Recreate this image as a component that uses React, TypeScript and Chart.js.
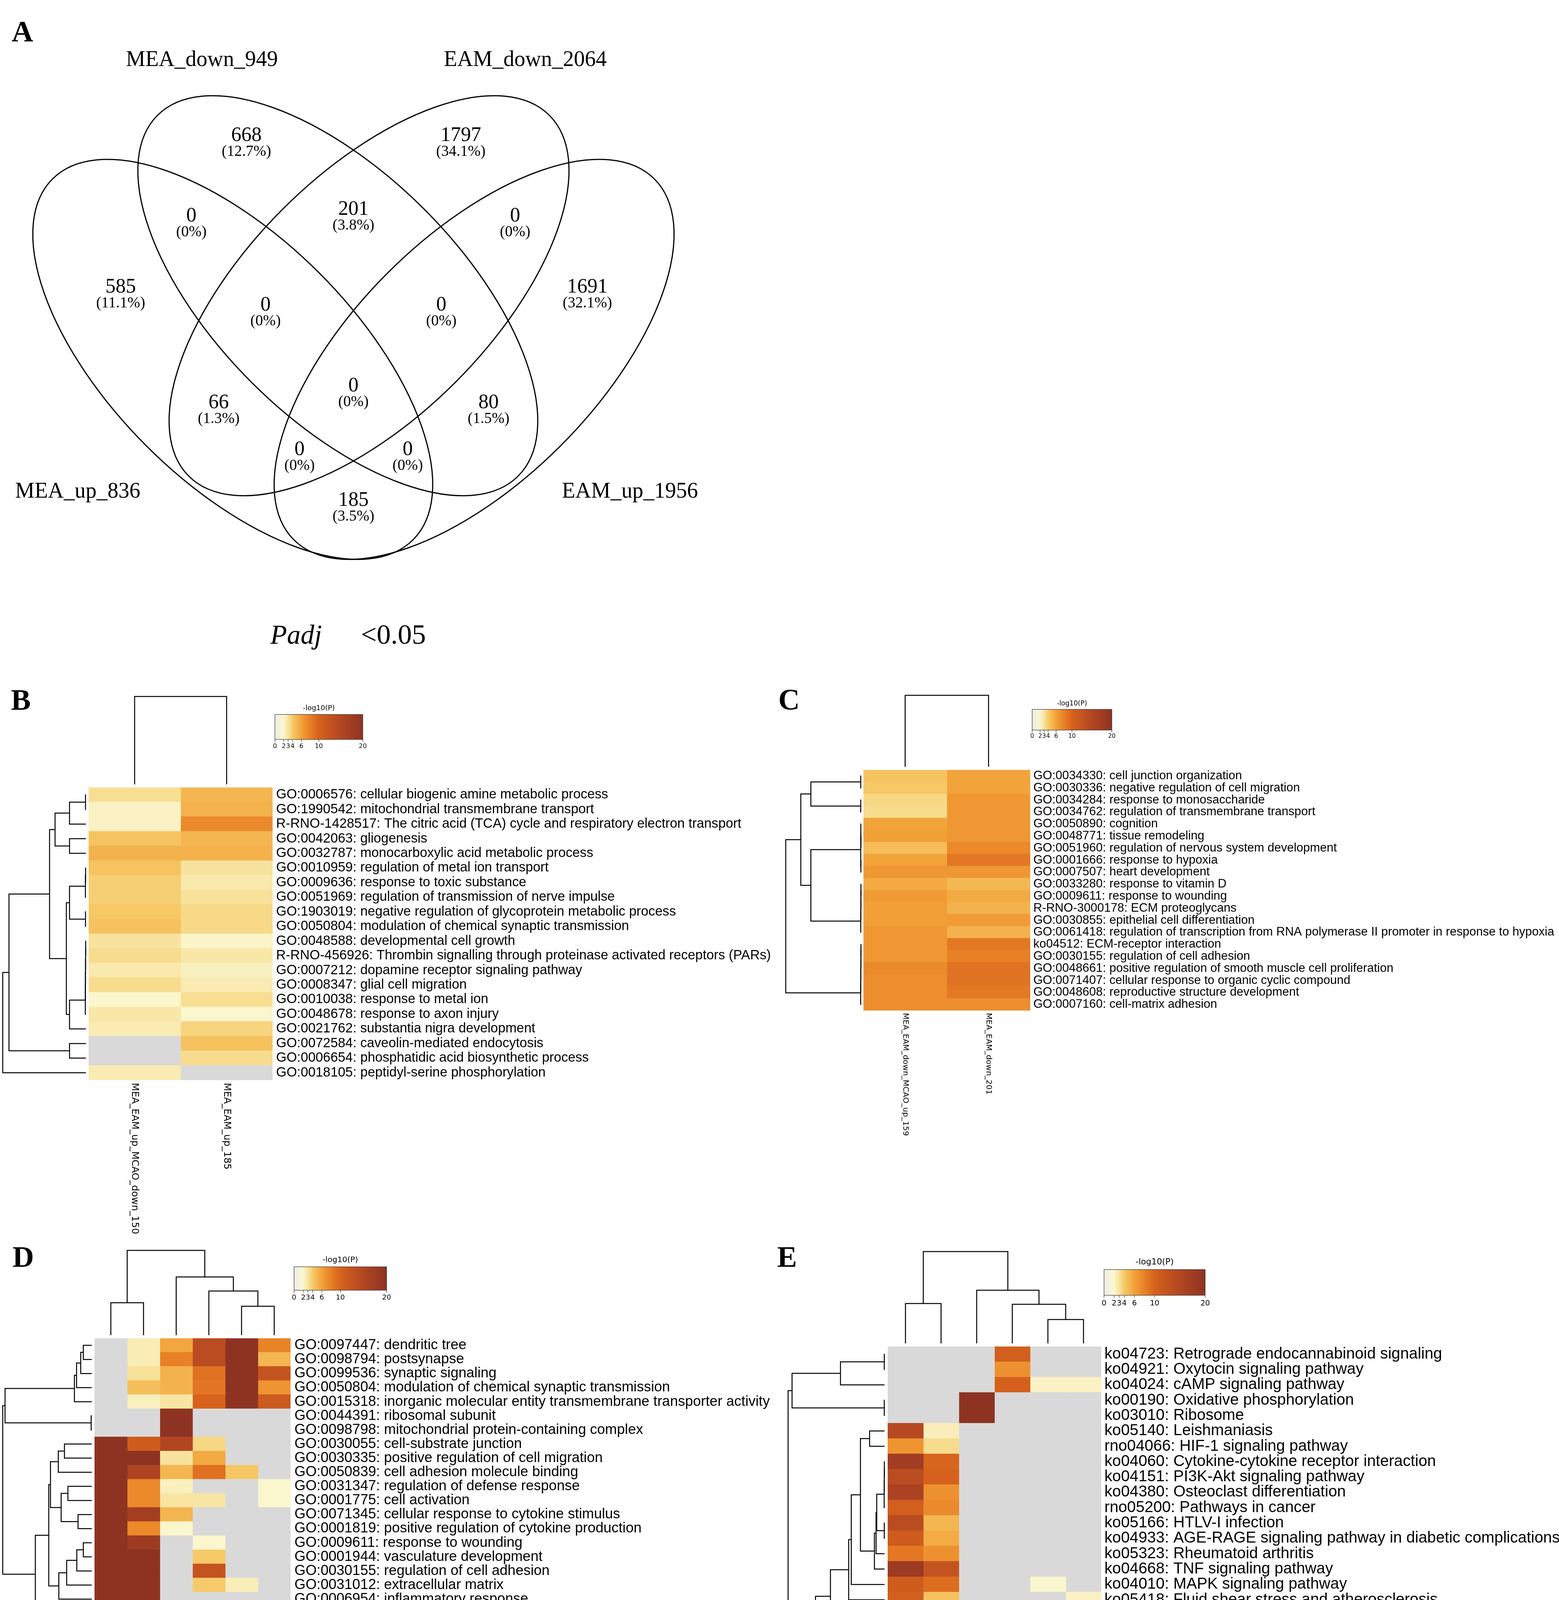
import React, { useEffect, useRef } from 'react';
import { Chart, registerables } from 'chart.js';

Chart.register(...registerables);
Chart.defaults.font.family = "'Liberation Sans', Arial, sans-serif";

// ======================= DATA =======================
const VENN_SETS = ['MEA_up_836', 'MEA_down_949', 'EAM_down_2064', 'EAM_up_1956'];
const VENN_REGION_COUNTS = [668, 1797, 0, 201, 0, 585, 1691, 0, 0, 0, 66, 80, 0, 0, 185];
const VENN_REGION_PERCENTS = ['(12.7%)', '(34.1%)', '(0%)', '(3.8%)', '(0%)', '(11.1%)', '(32.1%)', '(0%)', '(0%)', '(0%)', '(1.3%)', '(1.5%)', '(0%)', '(0%)', '(3.5%)'];
const THRESHOLD_NAME = 'Padj';
const THRESHOLD_VALUE = '<0.05';

const COLORBAR_TITLE = '-log10(P)';
const COLORBAR_TICKS = [0, 2, 3, 4, 6, 10, 20];
const COLORBAR_MAX = 20;

// ---- Panel B ----
const B_COLS = ['MEA_EAM_up_MCAO_down_150', 'MEA_EAM_up_185'];
const B_ROWS = [
  'GO:0006576: cellular biogenic amine metabolic process',
  'GO:1990542: mitochondrial transmembrane transport',
  'R-RNO-1428517: The citric acid (TCA) cycle and respiratory electron transport',
  'GO:0042063: gliogenesis',
  'GO:0032787: monocarboxylic acid metabolic process',
  'GO:0010959: regulation of metal ion transport',
  'GO:0009636: response to toxic substance',
  'GO:0051969: regulation of transmission of nerve impulse',
  'GO:1903019: negative regulation of glycoprotein metabolic process',
  'GO:0050804: modulation of chemical synaptic transmission',
  'GO:0048588: developmental cell growth',
  'R-RNO-456926: Thrombin signalling through proteinase activated receptors (PARs)',
  'GO:0007212: dopamine receptor signaling pathway',
  'GO:0008347: glial cell migration',
  'GO:0010038: response to metal ion',
  'GO:0048678: response to axon injury',
  'GO:0021762: substantia nigra development',
  'GO:0072584: caveolin-mediated endocytosis',
  'GO:0006654: phosphatidic acid biosynthetic process',
  'GO:0018105: peptidyl-serine phosphorylation',
];
const B_VALUES = [
  [3.2, 5.0], [2.2, 5.2], [2.2, 7.4], [4.3, 5.0], [5.2, 5.2],
  [4.3, 3.0], [3.8, 2.7], [3.8, 3.1], [4.1, 3.4], [4.4, 3.4],
  [3.0, 2.1], [3.3, 2.8], [2.7, 2.3], [3.3, 2.6], [2.0, 3.2],
  [2.8, 2.0], [2.6, 3.6], [null, 4.4], [null, 3.3], [2.6, null],
];
const B_ROW_LINKAGE = [
  [0, 1, 0.005], [20, 2, 0.197], [3, 4, 0.197], [21, 22, 0.371], [5, 6, 0.004],
  [24, 7, 0.006], [8, 9, 0.005], [25, 26, 0.197], [10, 11, 0.003], [28, 12, 0.004],
  [29, 13, 0.005], [30, 14, 0.006], [31, 15, 0.007], [32, 16, 0.197], [27, 33, 0.235],
  [23, 34, 0.437], [17, 18, 0.197], [35, 36, 0.925], [37, 19, 1.0],
];
const B_COL_LINKAGE = [[0, 1, 1.0]];

// ---- Panel C ----
const C_COLS = ['MEA_EAM_down_MCAO_up_159', 'MEA_EAM_down_201'];
const C_ROWS = [
  'GO:0034330: cell junction organization',
  'GO:0030336: negative regulation of cell migration',
  'GO:0034284: response to monosaccharide',
  'GO:0034762: regulation of transmembrane transport',
  'GO:0050890: cognition',
  'GO:0048771: tissue remodeling',
  'GO:0051960: regulation of nervous system development',
  'GO:0001666: response to hypoxia',
  'GO:0007507: heart development',
  'GO:0033280: response to vitamin D',
  'GO:0009611: response to wounding',
  'R-RNO-3000178: ECM proteoglycans',
  'GO:0030855: epithelial cell differentiation',
  'GO:0061418: regulation of transcription from RNA polymerase II promoter in response to hypoxia',
  'ko04512: ECM-receptor interaction',
  'GO:0030155: regulation of cell adhesion',
  'GO:0048661: positive regulation of smooth muscle cell proliferation',
  'GO:0071407: cellular response to organic cyclic compound',
  'GO:0048608: reproductive structure development',
  'GO:0007160: cell-matrix adhesion',
];
const C_VALUES = [
  [4.3, 5.9], [4.1, 5.9], [3.5, 6.6], [3.3, 6.6], [5.9, 6.6],
  [6.2, 6.6], [4.7, 7.5], [5.9, 8.6], [6.6, 6.6], [5.6, 4.9],
  [6.4, 5.6], [6.2, 5.2], [6.2, 6.4], [6.6, 5.2], [6.6, 8.5],
  [6.6, 8.0], [7.4, 8.9], [7.2, 8.9], [7.2, 8.5], [7.2, 7.2],
];
const C_ROW_LINKAGE = [
  [0, 1, 0.005], [2, 3, 0.005], [20, 21, 0.667], [5, 6, 0.003], [4, 23, 0.004],
  [7, 8, 0.003], [24, 25, 0.005], [9, 10, 0.002], [27, 11, 0.003], [28, 12, 0.004],
  [29, 13, 0.005], [26, 30, 0.667], [22, 31, 0.8], [14, 15, 0.002], [33, 16, 0.003],
  [34, 17, 0.004], [35, 18, 0.005], [36, 19, 0.006], [32, 37, 1.0],
];
const C_COL_LINKAGE = [[0, 1, 1.0]];

// ---- Panel D ----
const D_COLS = ['MCAO_up_1862', 'MEA_down_574', 'EAM_up_993', 'EAM_down_1375', 'MCAO_down_1393', 'MEA_up_419'];
const D_ROWS = [
  'GO:0097447: dendritic tree',
  'GO:0098794: postsynapse',
  'GO:0099536: synaptic signaling',
  'GO:0050804: modulation of chemical synaptic transmission',
  'GO:0015318: inorganic molecular entity transmembrane transporter activity',
  'GO:0044391: ribosomal subunit',
  'GO:0098798: mitochondrial protein-containing complex',
  'GO:0030055: cell-substrate junction',
  'GO:0030335: positive regulation of cell migration',
  'GO:0050839: cell adhesion molecule binding',
  'GO:0031347: regulation of defense response',
  'GO:0001775: cell activation',
  'GO:0071345: cellular response to cytokine stimulus',
  'GO:0001819: positive regulation of cytokine production',
  'GO:0009611: response to wounding',
  'GO:0001944: vasculature development',
  'GO:0030155: regulation of cell adhesion',
  'GO:0031012: extracellular matrix',
  'GO:0006954: inflammatory response',
  'GO:0009725: response to hormone',
];
const D_VALUES = [
  [null, 2.5, 5.8, 14, 20, 7.8],
  [null, 2.5, 8.0, 14, 20, 5.0],
  [null, 3.1, 5.2, 9.0, 20, 12.5],
  [null, 4.5, 5.2, 8.7, 20, 6.8],
  [null, 2.3, 2.9, 10, 20, 11.5],
  [null, null, 20, null, null, null],
  [null, null, 20, null, null, null],
  [20, 11, 15, 3.5, null, null],
  [20, 20, 3.0, 5.6, null, null],
  [20, 15.5, 5.0, 9.0, 4.2, null],
  [20, 7.5, 2.3, null, null, 2.0],
  [20, 7.5, 2.9, 2.9, null, 2.0],
  [20, 17, 5.0, null, null, null],
  [20, 7.5, 2.0, null, null, null],
  [20, 18, null, 2.0, null, null],
  [20, 20, null, 4.0, null, null],
  [20, 20, null, 12.5, null, null],
  [20, 20, null, 4.0, 2.4, null],
  [20, 20, null, null, null, null],
  [20, 20, 3.8, 3.1, 7.8, 5.0],
];
const D_ROW_LINKAGE = [
  [0, 1, 0.095], [20, 2, 0.124], [21, 3, 0.171], [22, 4, 0.195], [5, 6, 0.007],
  [23, 24, 0.974], [7, 8, 0.307], [26, 9, 0.376], [10, 11, 0.268], [12, 13, 0.154],
  [28, 29, 0.344], [27, 30, 0.464], [14, 15, 0.095], [32, 16, 0.168], [33, 17, 0.282],
  [34, 18, 0.37], [31, 35, 0.483], [36, 19, 0.634], [25, 37, 1.0],
];
const D_COL_LINKAGE = [[4, 5, 0.341], [3, 6, 0.521], [2, 7, 0.687], [0, 1, 0.382], [9, 8, 1.0]];

// ---- Panel E ----
const E_COLS = ['MCAO_up_1862', 'MEA_down_574', 'EAM_up_993', 'MCAO_down_1393', 'EAM_down_1375', 'MEA_up_419'];
const E_ROWS = [
  'ko04723: Retrograde endocannabinoid signaling',
  'ko04921: Oxytocin signaling pathway',
  'ko04024: cAMP signaling pathway',
  'ko00190: Oxidative phosphorylation',
  'ko03010: Ribosome',
  'ko05140: Leishmaniasis',
  'rno04066: HIF-1 signaling pathway',
  'ko04060: Cytokine-cytokine receptor interaction',
  'ko04151: PI3K-Akt signaling pathway',
  'ko04380: Osteoclast differentiation',
  'rno05200: Pathways in cancer',
  'ko05166: HTLV-I infection',
  'ko04933: AGE-RAGE signaling pathway in diabetic complications',
  'ko05323: Rheumatoid arthritis',
  'ko04668: TNF signaling pathway',
  'ko04010: MAPK signaling pathway',
  'ko05418: Fluid shear stress and atherosclerosis',
  'ko04015: Rap1 signaling pathway',
  'ko05150: Staphylococcus aureus infection',
  'ko05414: Dilated cardiomyopathy',
];
const E_VALUES = [
  [null, null, null, 10.5, null, null],
  [null, null, null, 7.0, null, null],
  [null, null, null, 10.3, 2.2, 2.2],
  [null, null, 20, null, null, null],
  [null, null, 20, null, null, null],
  [14.5, 2.4, null, null, null, null],
  [6.8, 3.3, null, null, null, null],
  [17.5, 9.8, null, null, null, null],
  [14, 10.2, null, null, null, null],
  [16, 7.0, null, null, null, null],
  [10.5, 7.4, null, null, null, null],
  [14, 5.0, null, null, null, null],
  [11, 5.5, null, null, null, null],
  [8.6, 7.0, null, null, null, null],
  [18, 12.5, null, null, null, null],
  [11, 9.2, null, null, 2.0, null],
  [10.5, 4.4, null, null, null, 2.2],
  [3.0, null, null, null, null, null],
  [13.5, null, null, null, null, null],
  [null, 2.3, null, null, 2.3, null],
];
const E_ROW_LINKAGE = [
  [0, 1, 0.003], [20, 2, 0.457], [3, 4, 0.003], [21, 22, 0.959], [5, 6, 0.155],
  [7, 8, 0.002], [25, 9, 0.003], [26, 10, 0.004], [11, 12, 0.003], [27, 28, 0.081],
  [29, 13, 0.088], [30, 14, 0.105], [24, 31, 0.25], [32, 15, 0.345], [33, 16, 0.372],
  [17, 18, 0.317], [34, 35, 0.561], [36, 19, 0.716], [23, 37, 1.0],
];
const E_COL_LINKAGE = [[4, 5, 0.26], [3, 6, 0.426], [2, 7, 0.579], [0, 1, 0.434], [9, 8, 1.0]];

// ======================= LAYOUT & STYLE =======================
const PAGE_W = 3992;
const PAGE_H = 4482;
const SERIF = "'Liberation Serif', 'Times New Roman', serif";
const SANS = "'Liberation Sans', Arial, sans-serif";
const DEJAVU = "'DejaVu Sans', sans-serif";
const LETTER_FONT = `bold 76px ${SERIF}`;

const CMAP_STOPS = [
  [0, 238, 236, 228], [1.5, 248, 245, 216], [2, 250, 246, 205], [3, 248, 227, 158],
  [4, 246, 202, 104], [6, 242, 162, 57], [8, 232, 128, 38], [10, 214, 98, 28],
  [15, 178, 70, 33], [20, 142, 51, 34],
];
const MISSING_COLOR = '#d9d9d9';

const VENN_BOX = { x: 0, y: 0, w: 1990, h: 1740 };
const VENN_ELLIPSES = [
  { cx: 596, cy: 920, rx: 653, ry: 313, rot: 45 },
  { cx: 865, cy: 757, rx: 653, ry: 313, rot: 45 },
  { cx: 945, cy: 757, rx: 653, ry: 313, rot: -45 },
  { cx: 1214, cy: 920, rx: 653, ry: 313, rot: -45 },
];
const VENN_SET_LABEL_POS = [[199, 1274], [517, 169], [1345, 169], [1613, 1274]];
const VENN_REGION_POS = [
  [631, 347], [1180, 347], [490, 553], [905, 536], [1319, 553],
  [309, 735], [1504, 735], [680, 781], [1130, 781], [905, 988],
  [560, 1031], [1251, 1031], [767, 1151], [1044, 1151], [905, 1281],
];
const VENN_PCT_DY = 42;
const VENN_LETTER_POS = [30, 106];
const THRESHOLD_POS = [[692, 1648], [924, 1648]];

const PANELS = [
  {
    letter: 'B', letterPos: [28, 1817],
    rows: B_ROWS, cols: B_COLS, values: B_VALUES, rowLinkage: B_ROW_LINKAGE, colLinkage: B_COL_LINKAGE,
    box: { x: 0, y: 1740, w: 1990, h: 1420 },
    area: { l: 227, t: 2016, r: 698, b: 2765 },
    rowDendro: { gap: 7, width: 213 }, colDendro: { gap: 8, height: 225 },
    colorbar: { x: 704, y: 1829, w: 225, h: 64, title: 18, tick: 16 },
    rowFont: 34.3, labelPad: 9, colFont: 24.6, colGap: 7,
  },
  {
    letter: 'C', letterPos: [1993, 1816],
    rows: C_ROWS, cols: C_COLS, values: C_VALUES, rowLinkage: C_ROW_LINKAGE, colLinkage: C_COL_LINKAGE,
    box: { x: 1990, y: 1740, w: 2002, h: 1220 },
    area: { l: 2211, t: 1971, r: 2638, b: 2587 },
    rowDendro: { gap: 6, width: 193 }, colDendro: { gap: 8, height: 183 },
    colorbar: { x: 2643, y: 1816, w: 204, h: 53, title: 17, tick: 15 },
    rowFont: 31, labelPad: 8, colFont: 20, colGap: 6,
  },
  {
    letter: 'D', letterPos: [32, 3243],
    rows: D_ROWS, cols: D_COLS, values: D_VALUES, rowLinkage: D_ROW_LINKAGE, colLinkage: D_COL_LINKAGE,
    box: { x: 0, y: 3160, w: 1990, h: 1322 },
    area: { l: 242, t: 3426, r: 744, b: 4148 },
    rowDendro: { gap: 7, width: 228 }, colDendro: { gap: 8, height: 217 },
    colorbar: { x: 753, y: 3243, w: 237, h: 60, title: 20, tick: 18 },
    rowFont: 36.5, labelPad: 10, colFont: 22.5, colGap: 11,
  },
  {
    letter: 'E', letterPos: [1990, 3243],
    rows: E_ROWS, cols: E_COLS, values: E_VALUES, rowLinkage: E_ROW_LINKAGE, colLinkage: E_COL_LINKAGE,
    box: { x: 1990, y: 3160, w: 2002, h: 1322 },
    area: { l: 2273, t: 3447, r: 2820, b: 4233 },
    rowDendro: { gap: 8, width: 247 }, colDendro: { gap: 8, height: 235 },
    colorbar: { x: 2827, y: 3250, w: 259, h: 66, title: 21.5, tick: 19 },
    rowFont: 40.2, labelPad: 8, colFont: 24.5, colGap: 11,
  },
];

// ======================= HELPERS =======================
function stopColor(s: number[]) {
  return `rgb(${s[1]},${s[2]},${s[3]})`;
}

function colorFor(v: number | null) {
  if (v === null || v === undefined) return MISSING_COLOR;
  const t = Math.max(0, Math.min(COLORBAR_MAX, v));
  for (let i = 1; i < CMAP_STOPS.length; i++) {
    const a = CMAP_STOPS[i - 1];
    const b = CMAP_STOPS[i];
    if (t <= b[0]) {
      const f = (t - a[0]) / (b[0] - a[0]);
      const r = Math.round(a[1] + (b[1] - a[1]) * f);
      const g = Math.round(a[2] + (b[2] - a[2]) * f);
      const bl = Math.round(a[3] + (b[3] - a[3]) * f);
      return `rgb(${r},${g},${bl})`;
    }
  }
  return stopColor(CMAP_STOPS[CMAP_STOPS.length - 1]);
}

function drawDendro(ctx: CanvasRenderingContext2D, link: number[][], leafPos: number[], orient: string, base: number, span: number) {
  const pos = leafPos.slice();
  const hgt = leafPos.map(() => 0);
  link.forEach(([a, b, h]) => {
    pos.push((pos[a] + pos[b]) / 2);
    hgt.push(h);
  });
  const d = (v: number) => base - v * span;
  ctx.strokeStyle = '#000';
  ctx.lineWidth = 2.5;
  ctx.lineJoin = 'miter';
  ctx.lineCap = 'butt';
  link.forEach(([a, b, h]) => {
    ctx.beginPath();
    if (orient === 'left') {
      ctx.moveTo(d(hgt[a]), pos[a]);
      ctx.lineTo(d(h), pos[a]);
      ctx.lineTo(d(h), pos[b]);
      ctx.lineTo(d(hgt[b]), pos[b]);
    } else {
      ctx.moveTo(pos[a], d(hgt[a]));
      ctx.lineTo(pos[a], d(h));
      ctx.lineTo(pos[b], d(h));
      ctx.lineTo(pos[b], d(hgt[b]));
    }
    ctx.stroke();
  });
}

function drawColorbar(ctx: CanvasRenderingContext2D, x: number, y: number, w: number, h: number, titleSize: number, tickSize: number) {
  const grad = ctx.createLinearGradient(x, 0, x + w, 0);
  CMAP_STOPS.forEach((s) => grad.addColorStop(s[0] / COLORBAR_MAX, stopColor(s)));
  ctx.fillStyle = grad;
  ctx.fillRect(x, y, w, h);
  ctx.strokeStyle = '#333';
  ctx.lineWidth = 1.2;
  ctx.strokeRect(x, y, w, h);
  ctx.fillStyle = '#000';
  ctx.font = `${titleSize}px ${DEJAVU}`;
  ctx.textAlign = 'center';
  ctx.textBaseline = 'middle';
  ctx.fillText(COLORBAR_TITLE, x + w / 2, y - titleSize * 0.85);
  ctx.font = `${tickSize}px ${DEJAVU}`;
  ctx.lineWidth = 1.2;
  COLORBAR_TICKS.forEach((t) => {
    const tx = x + (w * t) / COLORBAR_MAX;
    ctx.beginPath();
    ctx.moveTo(tx, y + h);
    ctx.lineTo(tx, y + h + 6);
    ctx.stroke();
    ctx.fillText(String(t), tx, y + h + tickSize * 1.1);
  });
}

// ======================= CHART BUILDERS =======================
function buildVenn(canvas: HTMLCanvasElement) {
  const ox = VENN_BOX.x;
  const oy = VENN_BOX.y;
  const vennPlugin = {
    id: 'vennDraw',
    afterDraw(chart: any) {
      const ctx: CanvasRenderingContext2D = chart.ctx;
      const X = (v: number) => chart.scales.x.getPixelForValue(v);
      const Y = (v: number) => chart.scales.y.getPixelForValue(v);
      ctx.save();
      ctx.strokeStyle = '#000';
      ctx.lineWidth = 3;
      VENN_ELLIPSES.forEach((e) => {
        const cx = X(e.cx);
        const cy = Y(e.cy);
        const rx = Math.abs(X(e.cx + e.rx) - cx);
        const ry = Math.abs(Y(e.cy + e.ry) - cy);
        ctx.beginPath();
        ctx.ellipse(cx, cy, rx, ry, (e.rot * Math.PI) / 180, 0, Math.PI * 2);
        ctx.stroke();
      });
      ctx.fillStyle = '#000';
      ctx.textAlign = 'center';
      ctx.textBaseline = 'alphabetic';
      ctx.font = `56px ${SERIF}`;
      VENN_SETS.forEach((s, i) => {
        ctx.fillText(s, X(VENN_SET_LABEL_POS[i][0]), Y(VENN_SET_LABEL_POS[i][1]));
      });
      ctx.textBaseline = 'middle';
      VENN_REGION_COUNTS.forEach((c, i) => {
        const [px, py] = VENN_REGION_POS[i];
        ctx.font = `52px ${SERIF}`;
        ctx.fillText(String(c), X(px), Y(py));
        ctx.font = `39px ${SERIF}`;
        ctx.fillText(VENN_REGION_PERCENTS[i], X(px), Y(py + VENN_PCT_DY));
      });
      ctx.textAlign = 'left';
      ctx.textBaseline = 'alphabetic';
      ctx.font = `italic 70px ${SERIF}`;
      ctx.fillText(THRESHOLD_NAME, X(THRESHOLD_POS[0][0]), Y(THRESHOLD_POS[0][1]));
      ctx.font = `72px ${SERIF}`;
      ctx.fillText(THRESHOLD_VALUE, X(THRESHOLD_POS[1][0]), Y(THRESHOLD_POS[1][1]));
      ctx.font = LETTER_FONT;
      ctx.fillText('A', X(VENN_LETTER_POS[0]), Y(VENN_LETTER_POS[1]));
      ctx.restore();
    },
  };
  return new Chart(canvas, {
    type: 'scatter',
    data: { datasets: [] },
    options: {
      animation: false,
      responsive: false,
      devicePixelRatio: 1,
      events: [],
      layout: { padding: 0 },
      plugins: { legend: { display: false }, tooltip: { enabled: false } },
      scales: {
        x: { type: 'linear', display: false, min: ox, max: ox + VENN_BOX.w },
        y: { type: 'linear', display: false, min: oy, max: oy + VENN_BOX.h, reverse: true },
      },
    },
    plugins: [vennPlugin],
  } as any);
}

function buildHeatmap(canvas: HTMLCanvasElement, p: any) {
  const ox = p.box.x;
  const oy = p.box.y;
  const nC = p.cols.length;
  const yW = p.box.x + p.box.w - p.area.r;
  const decor = {
    id: 'heatDecor',
    afterDraw(chart: any) {
      const ctx: CanvasRenderingContext2D = chart.ctx;
      const ca = chart.chartArea;
      const xs = chart.scales.x;
      const ys = chart.scales.y;
      const rowPos = p.rows.map((_: any, i: number) => ys.getPixelForValue(i));
      const colPos = p.cols.map((_: any, j: number) => xs.getPixelForValue(j + 0.5));
      ctx.save();
      drawDendro(ctx, p.rowLinkage, rowPos, 'left', ca.left - p.rowDendro.gap, p.rowDendro.width);
      drawDendro(ctx, p.colLinkage, colPos, 'top', ca.top - p.colDendro.gap, p.colDendro.height);
      ctx.fillStyle = '#000';
      ctx.font = `${p.colFont}px ${DEJAVU}`;
      ctx.textAlign = 'left';
      ctx.textBaseline = 'middle';
      p.cols.forEach((c: string, j: number) => {
        ctx.save();
        ctx.translate(colPos[j], ca.bottom + p.colGap);
        ctx.rotate(Math.PI / 2);
        ctx.fillText(c, 0, 0);
        ctx.restore();
      });
      const cb = p.colorbar;
      drawColorbar(ctx, cb.x - ox, cb.y - oy, cb.w, cb.h, cb.title, cb.tick);
      ctx.fillStyle = '#000';
      ctx.font = LETTER_FONT;
      ctx.textAlign = 'left';
      ctx.textBaseline = 'alphabetic';
      ctx.fillText(p.letter, p.letterPos[0] - ox, p.letterPos[1] - oy);
      ctx.restore();
    },
  };
  return new Chart(canvas, {
    type: 'bar',
    data: {
      labels: p.rows,
      datasets: p.cols.map((c: string, ci: number) => ({
        label: c,
        data: p.rows.map(() => [ci, ci + 1]),
        backgroundColor: p.values.map((r: (number | null)[]) => colorFor(r[ci])),
        borderWidth: 0,
        grouped: false,
        barPercentage: 1,
        categoryPercentage: 1,
        inflateAmount: 0.6,
      })),
    },
    options: {
      indexAxis: 'y',
      animation: false,
      responsive: false,
      devicePixelRatio: 1,
      events: [],
      layout: {
        padding: {
          left: p.area.l - ox,
          top: p.area.t - oy,
          right: 0,
          bottom: oy + p.box.h - p.area.b,
        },
      },
      plugins: { legend: { display: false }, tooltip: { enabled: false }, title: { display: false } },
      scales: {
        x: { type: 'linear', display: false, min: 0, max: nC },
        y: {
          type: 'category',
          position: 'right',
          offset: true,
          grid: { display: false, drawTicks: false },
          border: { display: false },
          ticks: {
            autoSkip: false,
            padding: p.labelPad,
            color: '#000',
            font: { family: SANS, size: p.rowFont },
          },
          afterFit: (s: any) => {
            s.width = yW;
          },
        },
      },
    },
    plugins: [decor],
  } as any);
}

// ======================= COMPONENTS =======================
function ChartCanvas({ box, build }: { box: any; build: (c: HTMLCanvasElement) => Chart }) {
  const ref = useRef<HTMLCanvasElement>(null);
  useEffect(() => {
    if (!ref.current) return;
    const chart = build(ref.current);
    return () => chart.destroy();
  }, []);
  return (
    <canvas
      ref={ref}
      width={box.w}
      height={box.h}
      style={{ position: 'absolute', left: box.x, top: box.y, width: box.w, height: box.h, display: 'block' }}
    />
  );
}

export default function App() {
  useEffect(() => {
    document.body.style.margin = '0';
    document.body.style.background = '#fff';
  }, []);
  return (
    <div style={{ position: 'absolute', left: 0, top: 0, width: PAGE_W, height: PAGE_H, background: '#fff', overflow: 'hidden' }}>
      <ChartCanvas box={VENN_BOX} build={buildVenn} />
      {PANELS.map((p) => (
        <ChartCanvas key={p.letter} box={p.box} build={(c) => buildHeatmap(c, p)} />
      ))}
    </div>
  );
}
